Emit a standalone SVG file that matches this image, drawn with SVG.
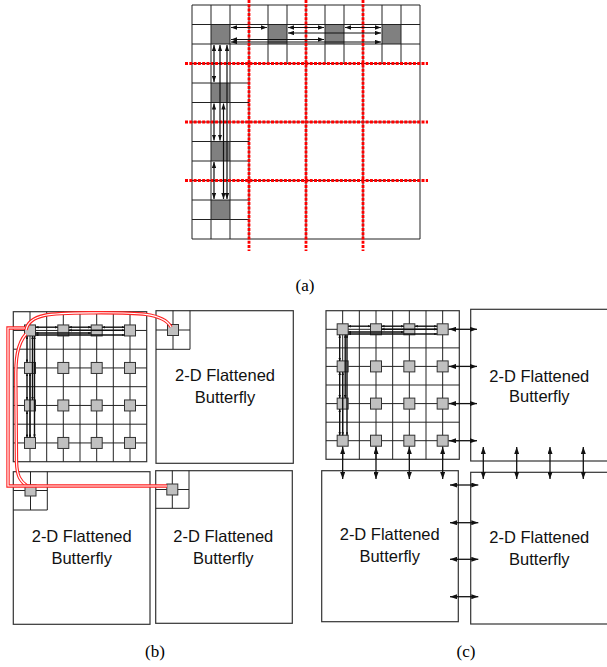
<svg xmlns="http://www.w3.org/2000/svg" width="607" height="667" viewBox="0 0 607 667">
<defs>
<style>
.g{stroke:#222;stroke-width:1;fill:none}
.blk{fill:#fff;stroke:#333;stroke-width:1.2}
.rt{fill:#c0c0c0;stroke:#333;stroke-width:1}
.dk{fill:#808080}
.rd{stroke:#f00;stroke-width:2.8;stroke-dasharray:3 1.3;fill:none}
.lbl{font-family:"Liberation Sans",Arial,sans-serif;font-size:16.5px;text-anchor:middle;fill:#111}
.cap{font-family:"Liberation Serif","Times New Roman",serif;font-size:17px;text-anchor:middle;fill:#000}
.ar{stroke:#111;stroke-width:1.2;marker-start:url(#ha);marker-end:url(#ha)}
.sb{stroke:#111;stroke-width:1.4;marker-start:url(#hs);marker-end:url(#hs)}
.bg{stroke:#111;stroke-width:1.3;marker-start:url(#hb);marker-end:url(#hb)}
.redd{stroke:#f22;stroke-width:3.4;fill:none}
.redw{stroke:#fff;stroke-width:1.2;fill:none}
</style>
<marker id="ha" markerUnits="userSpaceOnUse" markerWidth="6" markerHeight="4.4" refX="6" refY="2.2" orient="auto-start-reverse"><path d="M0,0 L6,2.2 L0,4.4 z" fill="#111"/></marker>
<marker id="hs" markerUnits="userSpaceOnUse" markerWidth="3" markerHeight="2.6" refX="3" refY="1.3" orient="auto-start-reverse"><path d="M0,0 L3,1.3 L0,2.6 z" fill="#111"/></marker>
<marker id="hb" markerUnits="userSpaceOnUse" markerWidth="7" markerHeight="5" refX="7" refY="2.5" orient="auto-start-reverse"><path d="M0,0 L7,2.5 L0,5 z" fill="#111"/></marker>
</defs>
<rect width="607" height="667" fill="#fff"/>

<!-- (a) -->
<g id="a-grid">
<rect x="192" y="5" width="228" height="234" fill="#fff"/>
<rect class="dk" x="211" y="24.5" width="19" height="19.5"/>
<rect class="dk" x="268" y="24.5" width="19" height="19.5"/>
<rect class="dk" x="325" y="24.5" width="19" height="19.5"/>
<rect class="dk" x="382" y="24.5" width="19" height="19.5"/>
<rect class="dk" x="211" y="83" width="19" height="19.5"/>
<rect class="dk" x="211" y="141.5" width="19" height="19.5"/>
<rect class="dk" x="211" y="200" width="19" height="19.5"/>
<path class="g" d="M192,5 H420 V239 H192 Z M211,5 V239 M230,5 V239 M249,5 V239 M306,5 V239 M363,5 V239 M268,5 V63.5 M287,5 V63.5 M325,5 V63.5 M344,5 V63.5 M382,5 V63.5 M401,5 V63.5 M192,24.5 H420 M192,44 H420 M192,63.5 H420 M192,122 H420 M192,180.5 H420 M192,83 H249 M192,102.5 H249 M192,141.5 H249 M192,161 H249 M192,200 H249 M192,219.5 H249"/>
<path class="rd" d="M249,0 V251 M306,0 V251 M363,0 V251 M185,63.5 H428 M185,122 H428 M185,180.5 H428"/>
</g>
<g id="a-links">
<line class="ar" x1="231" y1="27.5" x2="267" y2="27.5"/>
<line class="ar" x1="288" y1="27.5" x2="324" y2="27.5"/>
<line class="ar" x1="345" y1="27.5" x2="381" y2="27.5"/>
<line class="ar" x1="288" y1="33" x2="381" y2="33"/>
<line class="ar" x1="231" y1="39.5" x2="324" y2="39.5"/>
<line class="ar" x1="231" y1="42" x2="381" y2="42"/>
<line class="ar" x1="214" y1="45" x2="214" y2="82"/>
<line class="ar" x1="214" y1="103.5" x2="214" y2="140.5"/>
<line class="ar" x1="214" y1="162" x2="214" y2="199"/>
<line class="ar" x1="220" y1="45" x2="220" y2="140.5"/>
<line class="ar" x1="223.5" y1="103.5" x2="223.5" y2="199"/>
<line class="ar" x1="227" y1="45" x2="227" y2="199"/>
</g>
<text class="cap" x="305" y="291">(a)</text>

<!-- (b) -->
<g id="b-main">
<rect class="blk" x="13.3" y="311.7" width="133.4" height="150"/>
<path class="g" d="M30,311.7 V461.7 M46.7,311.7 V461.7 M63.3,311.7 V461.7 M80,311.7 V461.7 M96.7,311.7 V461.7 M113.3,311.7 V461.7 M130,311.7 V461.7 M13.3,330.45 H146.7 M13.3,349.2 H146.7 M13.3,367.95 H146.7 M13.3,386.7 H146.7 M13.3,405.45 H146.7 M13.3,424.2 H146.7 M13.3,442.95 H146.7"/>
</g>
<g id="b-r00"><rect class="rt" x="24.5" y="324.95" width="11" height="11"/></g>
<g id="b-r01"><rect class="rt" x="57.8" y="324.95" width="11" height="11"/></g>
<g id="b-r02"><rect class="rt" x="91.2" y="324.95" width="11" height="11"/></g>
<g id="b-r03"><rect class="rt" x="124.5" y="324.95" width="11" height="11"/></g>
<g id="b-r10"><rect class="rt" x="24.5" y="362.45" width="11" height="11"/></g>
<g id="b-r11"><rect class="rt" x="57.8" y="362.45" width="11" height="11"/></g>
<g id="b-r12"><rect class="rt" x="91.2" y="362.45" width="11" height="11"/></g>
<g id="b-r13"><rect class="rt" x="124.5" y="362.45" width="11" height="11"/></g>
<g id="b-r20"><rect class="rt" x="24.5" y="399.95" width="11" height="11"/></g>
<g id="b-r21"><rect class="rt" x="57.8" y="399.95" width="11" height="11"/></g>
<g id="b-r22"><rect class="rt" x="91.2" y="399.95" width="11" height="11"/></g>
<g id="b-r23"><rect class="rt" x="124.5" y="399.95" width="11" height="11"/></g>
<g id="b-r30"><rect class="rt" x="24.5" y="437.45" width="11" height="11"/></g>
<g id="b-r31"><rect class="rt" x="57.8" y="437.45" width="11" height="11"/></g>
<g id="b-r32"><rect class="rt" x="91.2" y="437.45" width="11" height="11"/></g>
<g id="b-r33"><rect class="rt" x="124.5" y="437.45" width="11" height="11"/></g>

<g id="b-tr">
<rect class="blk" x="156" y="310.7" width="137.3" height="152.6"/>
<path class="g" d="M190,310.7 V349.3 H156 M173,310.7 V349.3 M156,330 H190"/>
<rect class="rt" x="167.5" y="324.5" width="11" height="11"/>
<text class="lbl" x="225" y="381">2-D Flattened</text>
<text class="lbl" x="225" y="403">Butterfly</text>
</g>
<g id="b-bl">
<rect class="blk" x="13.3" y="471.7" width="136.7" height="152.6"/>
<path class="g" d="M47.3,471.7 V510 H13.3 M30.5,471.7 V510 M13.3,490.5 H47.3"/>
<rect class="rt" x="25" y="485" width="11" height="11"/>
<text class="lbl" x="81.7" y="542">2-D Flattened</text>
<text class="lbl" x="81.7" y="564">Butterfly</text>
</g>
<g id="b-br">
<rect class="blk" x="155.7" y="470.7" width="136.6" height="152.6"/>
<path class="g" d="M189,470.7 V508.3 H155.7 M172.3,470.7 V508.3 M155.7,489.5 H189"/>
<rect class="rt" x="166.8" y="484" width="11" height="11"/>
<text class="lbl" x="223.3" y="542">2-D Flattened</text>
<text class="lbl" x="223.3" y="564">Butterfly</text>
</g>

<g id="b-links">
<line class="sb" x1="35.5" y1="327.2" x2="57.8" y2="327.2"/>
<line class="sb" x1="68.8" y1="327.2" x2="91.2" y2="327.2"/>
<line class="sb" x1="102.2" y1="327.2" x2="124.5" y2="327.2"/>
<line class="sb" x1="68.8" y1="330.2" x2="124.5" y2="330.2"/>
<line class="sb" x1="35.5" y1="333" x2="91.2" y2="333"/>
<line class="sb" x1="35.5" y1="335" x2="124.5" y2="335"/>
<line class="sb" x1="27" y1="336" x2="27" y2="362.45"/>
<line class="sb" x1="27" y1="373.45" x2="27" y2="399.95"/>
<line class="sb" x1="27" y1="410.95" x2="27" y2="437.45"/>
<line class="sb" x1="30" y1="373.45" x2="30" y2="437.45"/>
<line class="sb" x1="32.5" y1="336" x2="32.5" y2="399.95"/>
<line class="sb" x1="34.5" y1="336" x2="34.5" y2="437.45"/>
<path class="redd" d="M26,330 C29,314 50,313 90,312.8 C135,312.6 163,312 171,327"/>
<path class="redw" d="M26,330 C29,314 50,313 90,312.8 C135,312.6 163,312 171,327"/>
<path class="redd" d="M26,334 C17,344 15.5,360 15.8,380 L16.5,462 C17,476 20,481 27,486"/>
<path class="redw" d="M26,334 C17,344 15.5,360 15.8,380 L16.5,462 C17,476 20,481 27,486"/>
<path class="redd" d="M25,328 H8 V486 H167"/>
<path class="redw" d="M25,328 H8 V486 H167"/>
</g>
<text class="cap" x="155" y="657">(b)</text>

<!-- (c) -->
<g id="c-main">
<rect class="blk" x="326" y="310.7" width="133.3" height="148.6"/>
<path class="g" d="M342.67,310.7 V459.3 M359.33,310.7 V459.3 M376,310.7 V459.3 M392.67,310.7 V459.3 M409.33,310.7 V459.3 M426,310.7 V459.3 M442.67,310.7 V459.3 M326,329.3 H459.3 M326,347.9 H459.3 M326,366.4 H459.3 M326,385 H459.3 M326,403.6 H459.3 M326,422.2 H459.3 M326,440.7 H459.3"/>
</g>
<g id="c-r00"><rect class="rt" x="337.17" y="323.8" width="11" height="11"/></g>
<g id="c-r01"><rect class="rt" x="370.5" y="323.8" width="11" height="11"/></g>
<g id="c-r02"><rect class="rt" x="403.83" y="323.8" width="11" height="11"/></g>
<g id="c-r03"><rect class="rt" x="437.17" y="323.8" width="11" height="11"/></g>
<g id="c-r10"><rect class="rt" x="337.17" y="360.9" width="11" height="11"/></g>
<g id="c-r11"><rect class="rt" x="370.5" y="360.9" width="11" height="11"/></g>
<g id="c-r12"><rect class="rt" x="403.83" y="360.9" width="11" height="11"/></g>
<g id="c-r13"><rect class="rt" x="437.17" y="360.9" width="11" height="11"/></g>
<g id="c-r20"><rect class="rt" x="337.17" y="398.1" width="11" height="11"/></g>
<g id="c-r21"><rect class="rt" x="370.5" y="398.1" width="11" height="11"/></g>
<g id="c-r22"><rect class="rt" x="403.83" y="398.1" width="11" height="11"/></g>
<g id="c-r23"><rect class="rt" x="437.17" y="398.1" width="11" height="11"/></g>
<g id="c-r30"><rect class="rt" x="337.17" y="435.2" width="11" height="11"/></g>
<g id="c-r31"><rect class="rt" x="370.5" y="435.2" width="11" height="11"/></g>
<g id="c-r32"><rect class="rt" x="403.83" y="435.2" width="11" height="11"/></g>
<g id="c-r33"><rect class="rt" x="437.17" y="435.2" width="11" height="11"/></g>

<g id="c-tr">
<rect class="blk" x="470.7" y="309.3" width="160" height="151.7"/>
<text class="lbl" x="539.3" y="381.5">2-D Flattened</text>
<text class="lbl" x="539.3" y="401.7">Butterfly</text>
</g>
<g id="c-bl">
<rect class="blk" x="321.7" y="470.7" width="136.6" height="151"/>
<text class="lbl" x="389.7" y="540">2-D Flattened</text>
<text class="lbl" x="389.7" y="561.7">Butterfly</text>
</g>
<g id="c-br">
<rect class="blk" x="470.7" y="472.3" width="160" height="151.7"/>
<text class="lbl" x="539.3" y="542.7">2-D Flattened</text>
<text class="lbl" x="539.3" y="565">Butterfly</text>
</g>

<g id="c-links">
<line class="sb" x1="348.17" y1="326.2" x2="370.5" y2="326.2"/>
<line class="sb" x1="381.5" y1="326.2" x2="403.83" y2="326.2"/>
<line class="sb" x1="414.83" y1="326.2" x2="437.17" y2="326.2"/>
<line class="sb" x1="381.5" y1="329.2" x2="437.17" y2="329.2"/>
<line class="sb" x1="348.17" y1="332" x2="403.83" y2="332"/>
<line class="sb" x1="348.17" y1="334" x2="437.17" y2="334"/>
<line class="sb" x1="339.7" y1="334.8" x2="339.7" y2="360.9"/>
<line class="sb" x1="339.7" y1="371.9" x2="339.7" y2="398.1"/>
<line class="sb" x1="339.7" y1="409.1" x2="339.7" y2="435.2"/>
<line class="sb" x1="342.7" y1="371.9" x2="342.7" y2="435.2"/>
<line class="sb" x1="345.2" y1="334.8" x2="345.2" y2="398.1"/>
<line class="sb" x1="347" y1="334.8" x2="347" y2="435.2"/>
<line class="bg" x1="449" y1="329.3" x2="477" y2="329.3"/>
<line class="bg" x1="449" y1="366.4" x2="477" y2="366.4"/>
<line class="bg" x1="449" y1="403.6" x2="477" y2="403.6"/>
<line class="bg" x1="449" y1="440.7" x2="477" y2="440.7"/>
<line class="bg" x1="342.67" y1="447" x2="342.67" y2="479"/>
<line class="bg" x1="376" y1="447" x2="376" y2="479"/>
<line class="bg" x1="409.33" y1="447" x2="409.33" y2="479"/>
<line class="bg" x1="442.67" y1="447" x2="442.67" y2="479"/>
<line class="bg" x1="483.3" y1="447" x2="483.3" y2="479"/>
<line class="bg" x1="516.7" y1="447" x2="516.7" y2="479"/>
<line class="bg" x1="550" y1="447" x2="550" y2="479"/>
<line class="bg" x1="583.3" y1="447" x2="583.3" y2="479"/>
<line class="bg" x1="450" y1="485" x2="478.3" y2="485"/>
<line class="bg" x1="450" y1="522.7" x2="478.3" y2="522.7"/>
<line class="bg" x1="450" y1="559.3" x2="478.3" y2="559.3"/>
<line class="bg" x1="450" y1="596.7" x2="478.3" y2="596.7"/>
</g>
<text class="cap" x="466" y="657">(c)</text>
</svg>
